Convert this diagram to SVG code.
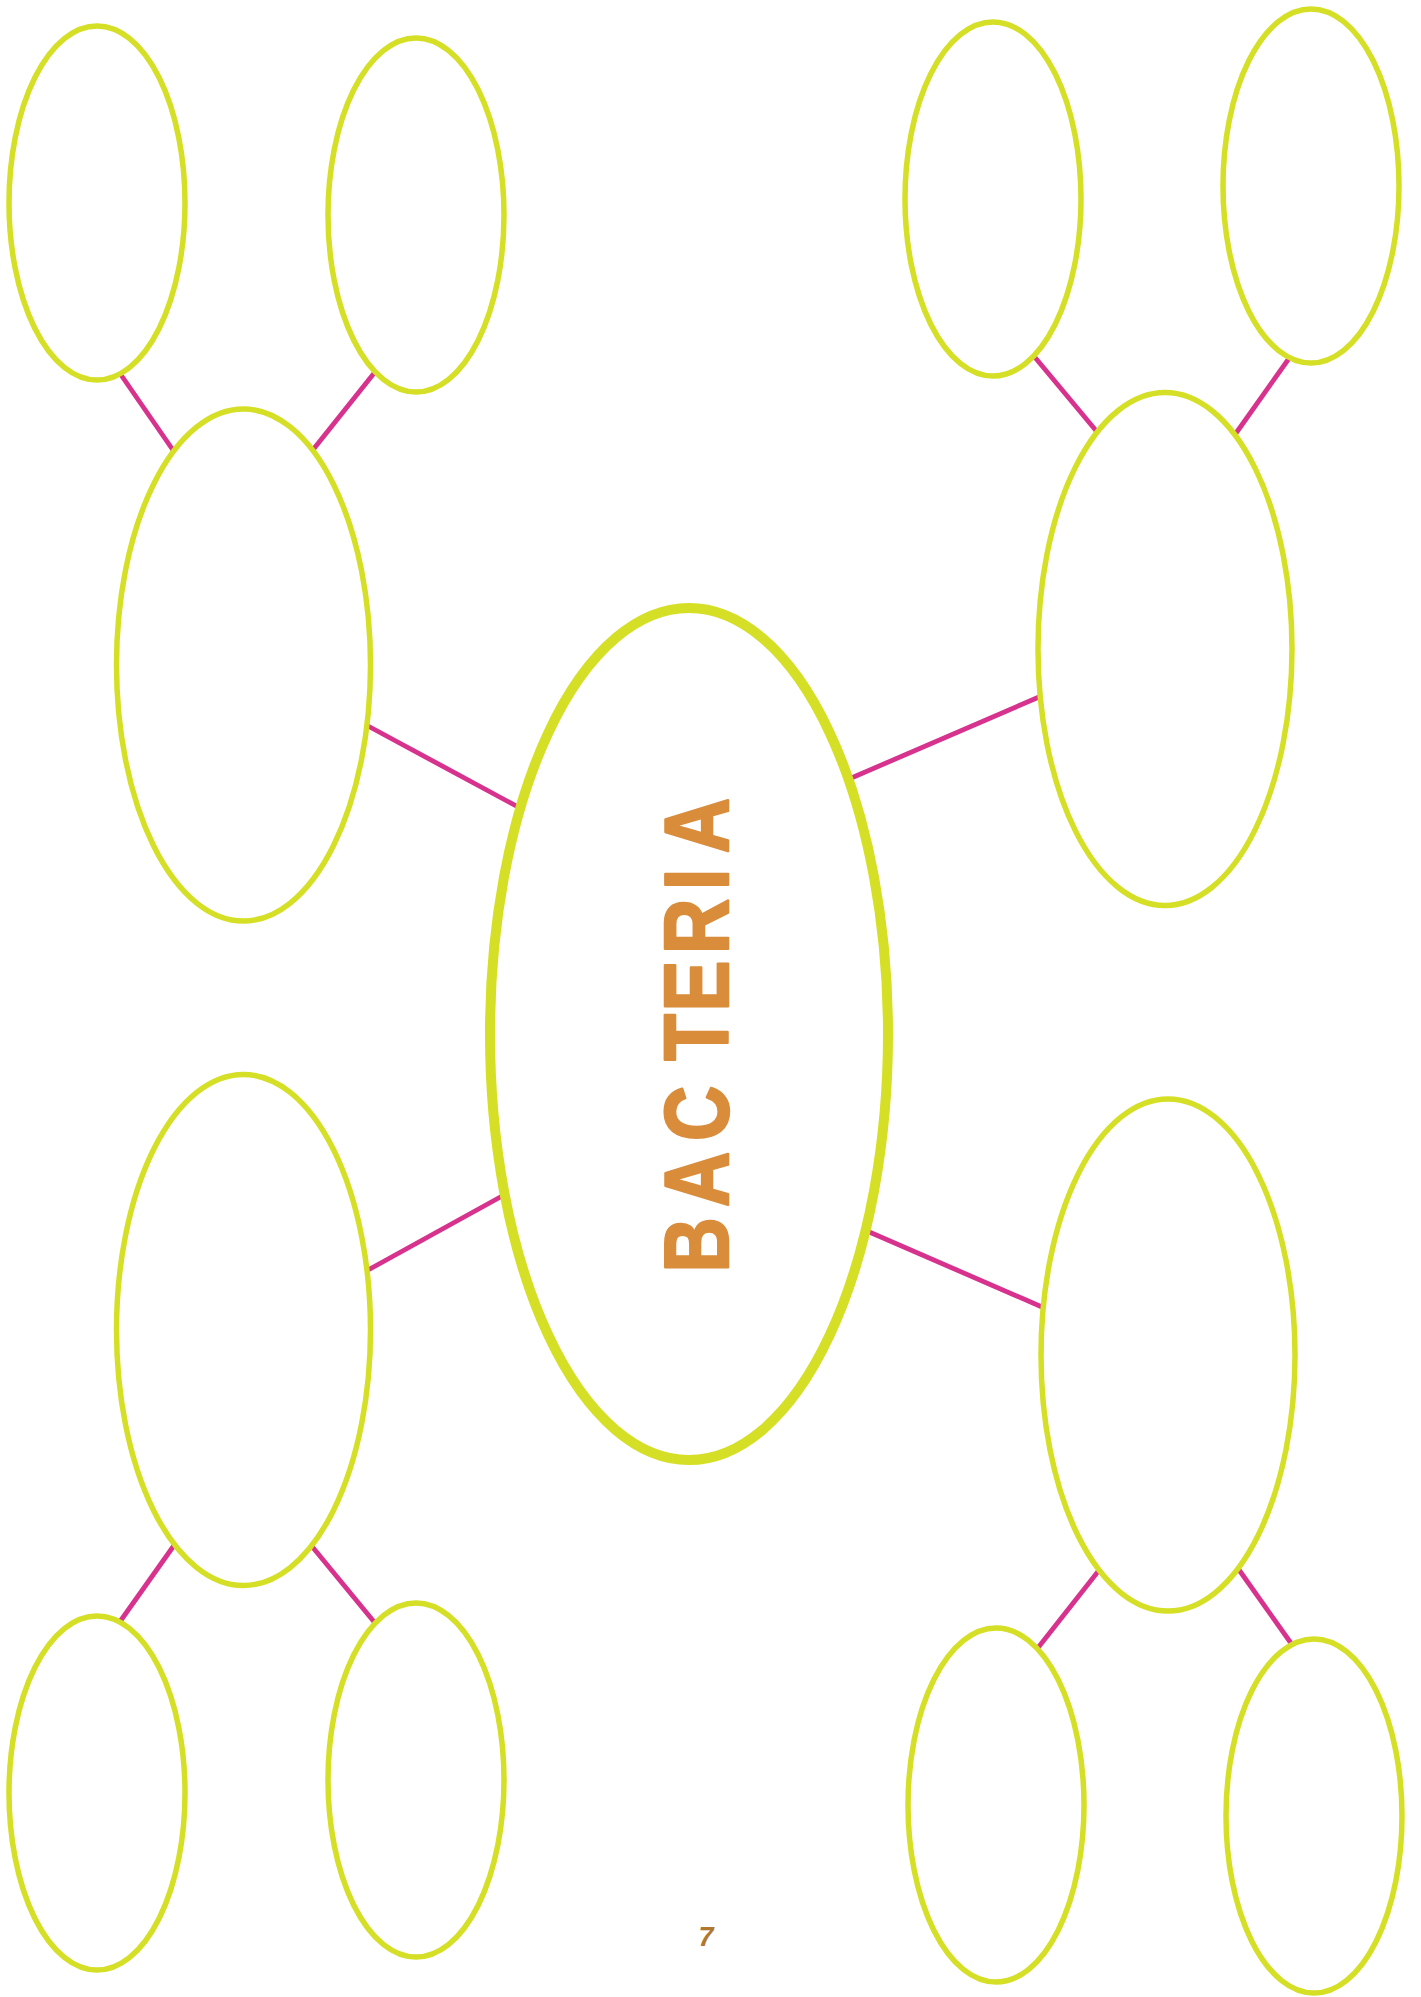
<svg xmlns="http://www.w3.org/2000/svg" width="1421" height="1997" viewBox="0 0 1421 1997">
<style>
.node{fill:#ffffff;stroke:#D5DF26;stroke-width:5.5}
.main{fill:#ffffff;stroke:#D5DF26;stroke-width:10}
.link{stroke:#D6328E;stroke-width:4.8;stroke-linecap:butt;fill:none}
.title{font-family:"Liberation Sans",Arial,sans-serif;font-weight:bold;font-size:90px;fill:#D98D3B;stroke:#D98D3B;stroke-width:2.5;stroke-linejoin:round}
.page{font-family:"Liberation Sans",Arial,sans-serif;font-weight:bold;font-style:italic;font-size:27px;fill:#B0772F}
</style>
<rect width="1421" height="1997" fill="#ffffff"/>
<g id="connectors">
<line class="link" x1="119" y1="372" x2="175" y2="453"/>
<line class="link" x1="375" y1="372" x2="312" y2="451"/>
<line class="link" x1="368" y1="726" x2="520" y2="808"/>
<line class="link" x1="1033" y1="355" x2="1098" y2="433"/>
<line class="link" x1="1290" y1="357" x2="1234" y2="436"/>
<line class="link" x1="849" y1="779" x2="1039" y2="697"/>
<line class="link" x1="504" y1="1195" x2="368" y2="1270"/>
<line class="link" x1="175" y1="1544" x2="119" y2="1623"/>
<line class="link" x1="310" y1="1544" x2="375" y2="1623"/>
<line class="link" x1="867" y1="1231" x2="1042" y2="1307"/>
<line class="link" x1="1100" y1="1569" x2="1037" y2="1649"/>
<line class="link" x1="1237" y1="1567" x2="1293" y2="1646"/>
</g>
<g id="node-tl1"><ellipse class="node" cx="97" cy="203" rx="88" ry="177"/></g>
<g id="node-tl2"><ellipse class="node" cx="416" cy="215" rx="88" ry="177"/></g>
<g id="node-ml"><ellipse class="node" cx="243.5" cy="665" rx="127" ry="256"/></g>
<g id="node-tr1"><ellipse class="node" cx="993" cy="199" rx="88" ry="177"/></g>
<g id="node-tr2"><ellipse class="node" cx="1311" cy="186" rx="88" ry="177"/></g>
<g id="node-mr"><ellipse class="node" cx="1165" cy="649" rx="127" ry="256.5"/></g>
<g id="node-ml2"><ellipse class="node" cx="243.5" cy="1330" rx="127" ry="255.5"/></g>
<g id="node-mr2"><ellipse class="node" cx="1168" cy="1355" rx="127" ry="256"/></g>
<g id="node-bl1"><ellipse class="node" cx="97" cy="1793" rx="88" ry="177"/></g>
<g id="node-bl2"><ellipse class="node" cx="416" cy="1780" rx="88" ry="177"/></g>
<g id="node-br1"><ellipse class="node" cx="996" cy="1805" rx="88" ry="177"/></g>
<g id="node-br2"><ellipse class="node" cx="1314" cy="1816" rx="88" ry="177"/></g>
<g id="node-center">
<ellipse class="main" cx="689" cy="1034" rx="199" ry="426"/>
<text class="title" transform="translate(728,0) rotate(-90) scale(0.85,1)" text-anchor="middle"><tspan x="-1464.7" y="0">B</tspan><tspan x="-1387.6" y="0">A</tspan><tspan x="-1310" y="0">C</tspan><tspan x="-1220.6" y="0">T</tspan><tspan x="-1160" y="0">E</tspan><tspan x="-1090" y="0">R</tspan><tspan x="-1034.7" y="0">I</tspan><tspan x="-971.2" y="0">A</tspan></text>
</g>
<text class="page" x="706" y="1946" text-anchor="middle">7</text>
</svg>
